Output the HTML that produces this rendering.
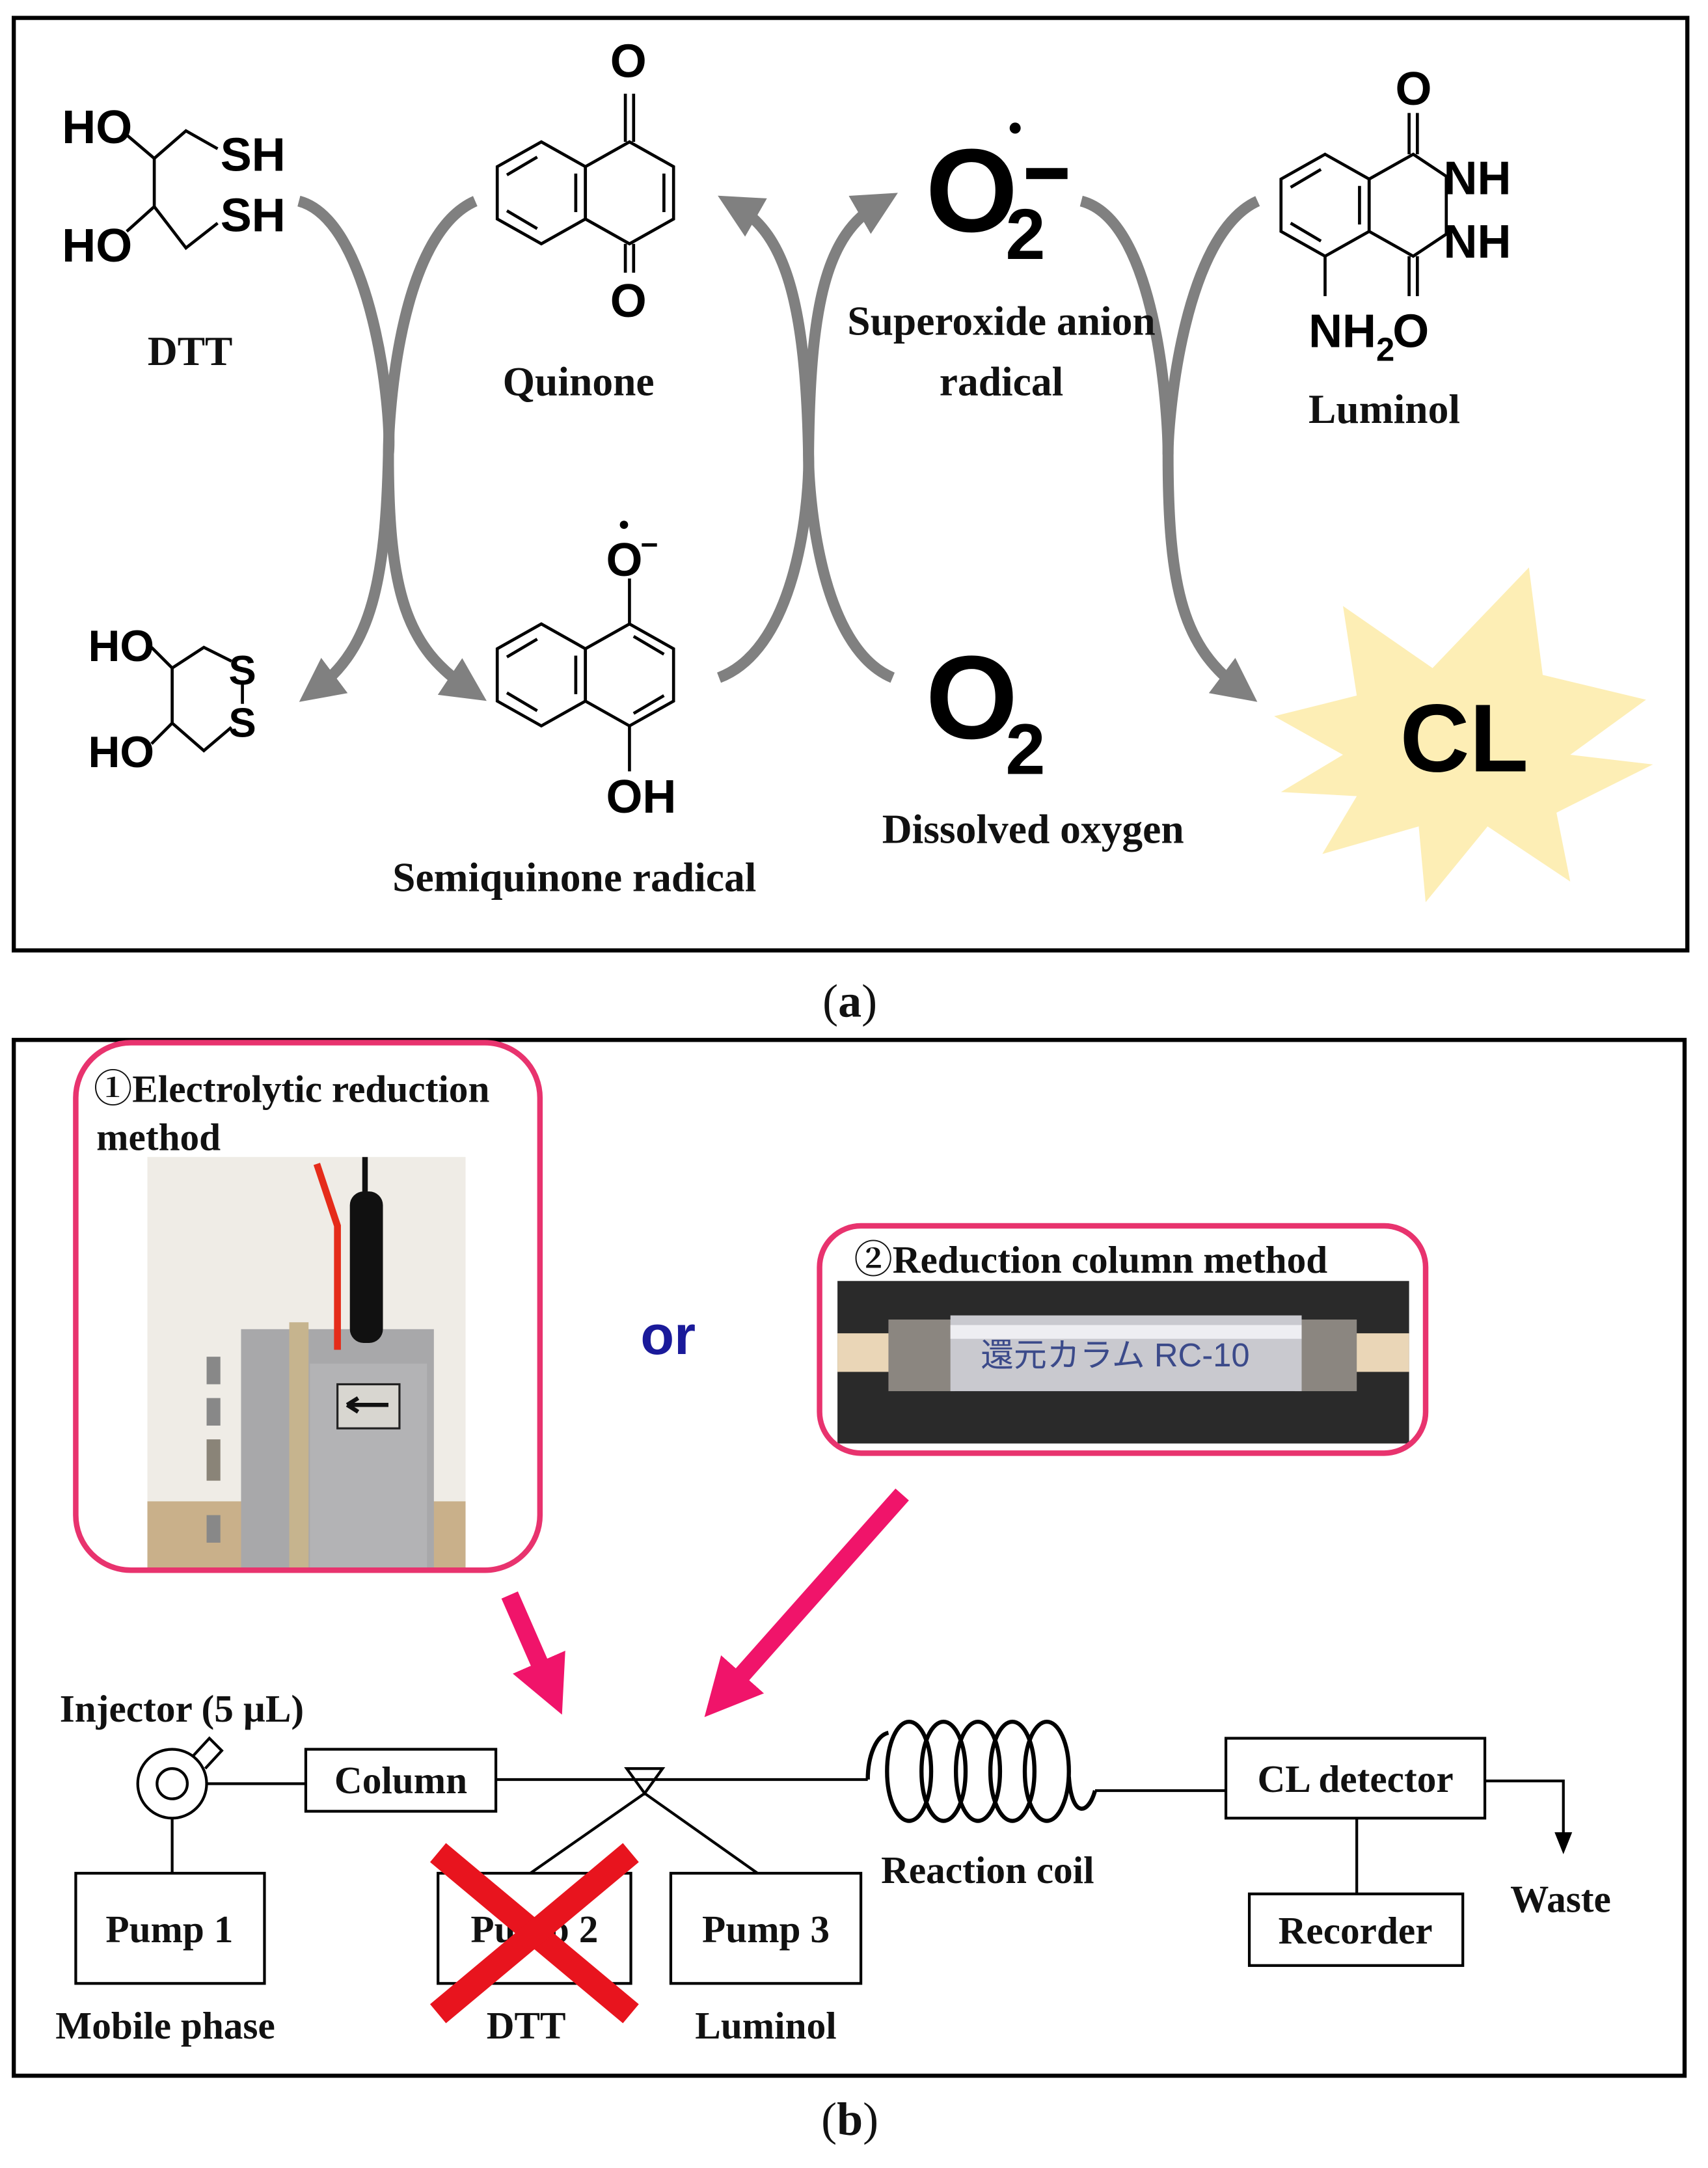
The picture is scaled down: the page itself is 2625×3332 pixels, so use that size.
<!DOCTYPE html>
<html><head><meta charset="utf-8"><style>html,body{margin:0;padding:0;background:#fff}svg{display:block}</style></head><body>
<svg width="2625" height="3332" viewBox="0 0 1240 1574" preserveAspectRatio="none" xmlns="http://www.w3.org/2000/svg">
<defs>
<marker id="gh" viewBox="0 0 10 10" refX="5" refY="5" markerWidth="4" markerHeight="4" orient="auto"><path d="M0,0 L10,5 L0,10 z" fill="#808080"/></marker>
<marker id="ph" viewBox="0 0 10 10" refX="4" refY="5" markerWidth="3.2" markerHeight="3.2" orient="auto"><path d="M0,0 L10,5 L0,10 z" fill="#f0146a"/></marker>
<marker id="bh" viewBox="0 0 10 10" refX="8" refY="5" markerWidth="8" markerHeight="8" orient="auto"><path d="M0,1 L10,5 L0,9 z" fill="#000"/></marker>
</defs>
<rect width="1240" height="1574" fill="#fff"/>
<rect x="10" y="13" width="1215" height="677" fill="none" stroke="#000" stroke-width="3"/>
<g font-family="Liberation Serif, serif" font-weight="bold" fill="#111" text-anchor="middle">
<text x="617" y="738" font-size="34" font-weight="normal">(<tspan font-weight="bold">a</tspan>)</text>
<text x="617" y="1550" font-size="34" font-weight="normal">(<tspan font-weight="bold">b</tspan>)</text>
</g>
<g fill="none" stroke="#808080" stroke-width="8" marker-end="url(#gh)">
<path d="M217,146 C270,160 285,300 282,330 C280,420 270,470 230,500"/>
<path d="M345,146 C290,170 282,300 282,330 C282,430 295,470 340,500"/>
<path d="M522,492 C580,470 588,360 587,330 C585,220 570,170 535,150"/>
<path d="M648,492 C595,470 587,360 587,330 C588,220 600,170 638,148"/>
<path d="M785,146 C840,160 848,300 848,330 C848,430 860,470 900,500"/>
</g>
<path d="M913,146 C860,170 848,300 848,330" fill="none" stroke="#808080" stroke-width="8"/>
<g stroke="#000" stroke-width="2.2" fill="none">
<polyline points="92,98 112,115 112,150 92,168"/>
<polyline points="112,115 135,95 158,108"/>
<polyline points="112,150 135,180 158,162"/>
<polyline points="110,470 125,485 148,470 168,480"/>
<polyline points="125,485 125,525 148,545 168,528"/>
<line x1="110" y1="540" x2="125" y2="525"/>
<line x1="176" y1="497" x2="176" y2="511"/>
<polygon points="393,103 425,121 425,159 393,177 361,159 361,121"/>
<polygon points="425,121 457,103 489,121 489,159 457,177 425,159"/>
<line x1="368" y1="127" x2="390" y2="114"/><line x1="368" y1="153" x2="390" y2="166"/><line x1="418" y1="126" x2="418" y2="154"/>
<line x1="482" y1="126" x2="482" y2="154"/>
<line x1="454" y1="103" x2="454" y2="68"/><line x1="460" y1="103" x2="460" y2="68"/>
<line x1="454" y1="177" x2="454" y2="198"/><line x1="460" y1="177" x2="460" y2="198"/>
<polygon points="393,453 425,471 425,509 393,527 361,509 361,471"/>
<polygon points="425,471 457,453 489,471 489,509 457,527 425,509"/>
<line x1="368" y1="477" x2="390" y2="464"/><line x1="368" y1="503" x2="390" y2="516"/><line x1="418" y1="476" x2="418" y2="504"/>
<line x1="460" y1="462" x2="482" y2="475"/><line x1="460" y1="518" x2="482" y2="505"/>
<line x1="457" y1="453" x2="457" y2="420"/><line x1="457" y1="527" x2="457" y2="560"/>
<polygon points="962,112 994,130 994,168 962,186 930,168 930,130"/>
<polygon points="994,130 1026,112 1050,128 1050,170 1026,186 994,168"/>
<line x1="937" y1="136" x2="959" y2="123"/><line x1="937" y1="162" x2="959" y2="175"/><line x1="987" y1="135" x2="987" y2="163"/>
<line x1="1023" y1="112" x2="1023" y2="82"/><line x1="1029" y1="112" x2="1029" y2="82"/>
<line x1="1023" y1="186" x2="1023" y2="215"/><line x1="1029" y1="186" x2="1029" y2="215"/>
<line x1="962" y1="186" x2="962" y2="215"/>
</g>
<g font-family="Liberation Sans, sans-serif" font-weight="bold" fill="#000">
<text x="45" y="104" font-size="34">HO</text>
<text x="160" y="124" font-size="34">SH</text>
<text x="160" y="168" font-size="34">SH</text>
<text x="45" y="190" font-size="34">HO</text>
<text x="64" y="480" font-size="32">HO</text>
<text x="166" y="497" font-size="30">S</text>
<text x="166" y="535" font-size="30">S</text>
<text x="64" y="557" font-size="32">HO</text>
<text x="443" y="56" font-size="34">O</text>
<text x="443" y="230" font-size="34">O</text>
<text x="440" y="418" font-size="34">O</text><circle cx="453" cy="381" r="3"/><text x="465" y="403" font-size="22">−</text>
<text x="440" y="590" font-size="34">OH</text>
<text x="1013" y="76" font-size="34">O</text>
<text x="1048" y="141" font-size="34">NH</text>
<text x="1048" y="187" font-size="34">NH</text>
<text x="950" y="252" font-size="34">NH<tspan font-size="24" dy="10">2</tspan></text>
<text x="1011" y="252" font-size="34">O</text>
<text x="672" y="168" font-size="86">O</text>
<text x="730" y="188" font-size="52">2</text>
<circle cx="737" cy="93" r="4"/>
<rect x="745" y="122" width="30" height="8"/>
<text x="672" y="536" font-size="86">O</text>
<text x="730" y="562" font-size="52">2</text>
</g>
<polygon fill="#fdeeb5" points="1110,412 1120,490 1195,508 1140,548 1200,555 1130,590 1140,640 1080,600 1035,655 1030,600 960,620 985,578 930,575 975,548 925,520 985,505 975,440 1040,485" />
<text x="1063" y="560" font-family="Liberation Sans, sans-serif" font-weight="bold" font-size="70" text-anchor="middle" fill="#000">CL</text>
<g font-family="Liberation Serif, serif" font-weight="bold" fill="#111" text-anchor="middle" font-size="30">
<text x="138" y="265">DTT</text>
<text x="420" y="287">Quinone</text>
<text x="727" y="243">Superoxide anion</text>
<text x="727" y="287">radical</text>
<text x="1005" y="307">Luminol</text>
<text x="417" y="647">Semiquinone radical</text>
<text x="750" y="612">Dissolved oxygen</text>
</g>
<rect x="10" y="755" width="1213" height="752" fill="none" stroke="#000" stroke-width="3"/>
<rect x="107" y="840" width="231" height="300" fill="#efece6"/>
<rect x="107" y="1090" width="231" height="50" fill="#c9b08a"/>
<rect x="175" y="965" width="140" height="175" fill="#a8a8aa"/>
<rect x="210" y="960" width="14" height="180" fill="#c6b48e"/>
<rect x="225" y="990" width="85" height="150" fill="#b3b3b5"/>
<rect x="245" y="1005" width="45" height="32" fill="#d8d6d0" stroke="#222" stroke-width="1.5"/>
<path d="M252,1020 L282,1020 M252,1020 l8,-5 M252,1020 l8,5" stroke="#111" stroke-width="3" fill="none"/>
<rect x="150" y="985" width="10" height="20" fill="#888"/><rect x="150" y="1015" width="10" height="20" fill="#888"/><rect x="150" y="1045" width="10" height="30" fill="#8a8478"/><rect x="150" y="1100" width="10" height="20" fill="#888"/>
<path d="M230,845 L245,890 L245,980" stroke="#e52c1a" stroke-width="5" fill="none"/>
<rect x="254" y="865" width="24" height="110" rx="10" fill="#111"/>
<line x1="265" y1="840" x2="265" y2="870" stroke="#111" stroke-width="4"/>
<rect x="55" y="757" width="337" height="383" rx="40" fill="none" stroke="#e8336e" stroke-width="4"/>
<rect x="608" y="930" width="415" height="118" fill="#2a2a2a"/>
<rect x="608" y="968" width="415" height="28" fill="#ead6b7"/>
<rect x="645" y="958" width="48" height="52" fill="#8b8680"/>
<rect x="940" y="958" width="45" height="52" fill="#8b8680"/>
<rect x="690" y="955" width="255" height="55" fill="#c9c9cf"/>
<rect x="690" y="962" width="255" height="10" fill="#eeeef2"/>
<text x="712" y="992" font-family="Liberation Sans, Noto Sans CJK JP, sans-serif" font-size="24" fill="#3b4a8a">還元カラム RC-10</text>
<rect x="595" y="890" width="440" height="165" rx="30" fill="none" stroke="#e8336e" stroke-width="4"/>
<g font-family="Liberation Serif, Noto Serif CJK SC, serif" font-weight="bold" fill="#111" font-size="28">
<text x="68" y="800">①Electrolytic reduction</text>
<text x="70" y="835">method</text>
<text x="620" y="924">②Reduction column method</text>
</g>
<text x="485" y="983" font-family="Liberation Sans, sans-serif" font-weight="bold" font-size="40" fill="#1a1a9a" text-anchor="middle">or</text>
<g stroke="#f0146a" stroke-width="13" marker-end="url(#ph)">
<line x1="370" y1="1158" x2="398" y2="1222"/>
<line x1="655" y1="1085" x2="528" y2="1228"/>
</g>
<g stroke="#000" stroke-width="2" fill="none">
<circle cx="125" cy="1295" r="25"/><circle cx="125" cy="1295" r="11"/>
<path d="M140,1275 L152,1262 L161,1271 L149,1284"/>
<line x1="150" y1="1295" x2="222" y2="1295"/>
<line x1="125" y1="1320" x2="125" y2="1360"/>
<rect x="222" y="1270" width="138" height="45"/>
<line x1="360" y1="1292" x2="630" y2="1292"/>
<polygon points="455,1284 481,1284 468,1302"/>
<line x1="468" y1="1302" x2="385" y2="1360"/>
<line x1="468" y1="1302" x2="550" y2="1360"/>
</g>
<g stroke="#000" stroke-width="3" fill="none">
<path d="M630,1292 C630,1275 636,1260 645,1258"/>
<ellipse cx="660" cy="1286" rx="16" ry="36"/>
<ellipse cx="685" cy="1286" rx="16" ry="36"/>
<ellipse cx="710" cy="1286" rx="16" ry="36"/>
<ellipse cx="735" cy="1286" rx="16" ry="36"/>
<ellipse cx="760" cy="1286" rx="16" ry="36"/>
<path d="M776,1290 C778,1320 790,1318 795,1300"/>
</g>
<g stroke="#000" stroke-width="2" fill="none">
<line x1="795" y1="1300" x2="890" y2="1300"/>
<rect x="890" y="1262" width="188" height="58"/>
<polyline points="1078,1293 1135,1293 1135,1343" marker-end="url(#bh)"/>
<line x1="985" y1="1320" x2="985" y2="1375"/>
<rect x="907" y="1375" width="155" height="52"/>
<rect x="55" y="1360" width="137" height="80"/>
<rect x="318" y="1360" width="140" height="80"/>
<rect x="487" y="1360" width="138" height="80"/>
</g>
<g font-family="Liberation Serif, serif" font-weight="bold" fill="#111" font-size="28" text-anchor="middle">
<text x="132" y="1250">Injector (5 µL)</text>
<text x="291" y="1302">Column</text>
<text x="984" y="1301">CL detector</text>
<text x="984" y="1411">Recorder</text>
<text x="1133" y="1388">Waste</text>
<text x="717" y="1367">Reaction coil</text>
<text x="123" y="1410">Pump 1</text>
<text x="388" y="1410">Pump 2</text>
<text x="556" y="1410">Pump 3</text>
<text x="120" y="1480">Mobile phase</text>
<text x="382" y="1480">DTT</text>
<text x="556" y="1480">Luminol</text>
</g>
<g stroke="#e8141e" stroke-width="18" stroke-linecap="butt">
<line x1="318" y1="1345" x2="458" y2="1462"/>
<line x1="458" y1="1345" x2="318" y2="1462"/>
</g>
</svg>
</body></html>
